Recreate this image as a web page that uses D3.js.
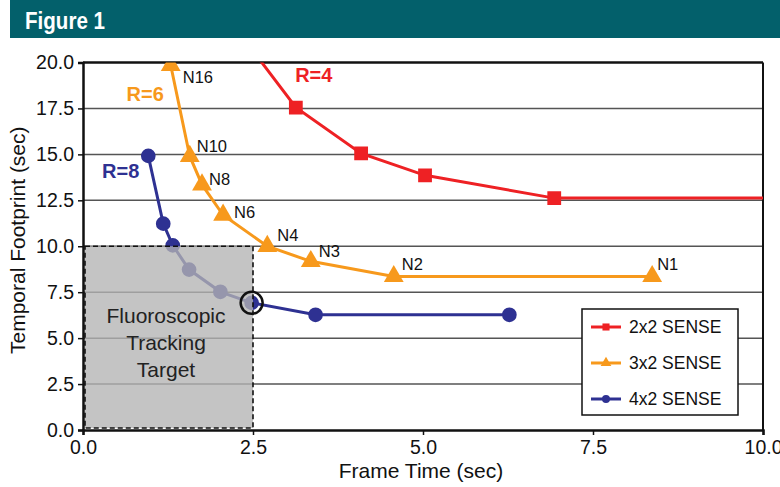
<!DOCTYPE html>
<html>
<head>
<meta charset="utf-8">
<script src="https://cdn.jsdelivr.net/npm/d3@7"></script>
<style>
  body { margin: 0; background: #fff; }
  svg { font-family: "Liberation Sans", Arial, sans-serif; }
</style>
</head>
<body>
<div id="chart"></div>
<script>
// frame time (sec) / temporal footprint (sec) per acceleration
const r4Frame = [2.2, 3.13, 4.09, 5.03, 6.93, 12.5];
const r4Foot = [22.1, 17.55, 15.05, 13.86, 12.62, 12.62];

const r6Frame = [1.29, 1.57, 1.75, 2.06, 2.71, 3.35, 4.57, 8.37];
const r6Foot = [19.85, 14.9, 13.35, 11.7, 10.0, 9.18, 8.36, 8.36];
const r6Labels = ['N16', 'N10', 'N8', 'N6', 'N4', 'N3', 'N2', 'N1'];

const r8Frame = [0.96, 1.18, 1.32, 1.56, 2.02, 2.48, 3.42, 6.27];
const r8Foot = [14.92, 11.23, 10.05, 8.73, 7.52, 6.92, 6.27, 6.27];

const xTicks = [0, 2.5, 5, 7.5, 10];
const yTicks = [0, 2.5, 5, 7.5, 10, 12.5, 15, 17.5, 20];

const legendNames = ['2x2 SENSE', '3x2 SENSE', '4x2 SENSE'];
const target = { frame: 2.5, foot: 10 };

const width = 780, height = 487;
const mLeft = 83, mRight = 763, mTop = 62.5, mBottom = 430;

// pixel nudges for the N labels (layout only)
const nDx = [12, 7, 7, 11, 10, 8, 8, 5];
const nDy = [18, -4, 0, 3, -5, -4, -6, -6];

const svg = d3.select('#chart').append('svg')
  .attr('width', width)
  .attr('height', height);

// header bar
svg.append('rect')
  .attr('x', 10).attr('y', 0)
  .attr('width', width - 10).attr('height', 38)
  .attr('fill', '#03606b');
svg.append('text')
  .attr('x', 25).attr('y', 29)
  .attr('fill', '#fff')
  .attr('font-size', 24)
  .attr('font-weight', 'bold')
  .attr('textLength', 80)
  .attr('lengthAdjust', 'spacingAndGlyphs')
  .text('Figure 1');

const x = d3.scaleLinear().domain([0, 10]).range([mLeft, mRight]);
const y = d3.scaleLinear().domain([0, 20]).range([mBottom, mTop]);

// gridlines
svg.append('g')
  .selectAll('line')
  .data(yTicks.filter(d => d > 0))
  .enter()
  .append('line')
  .attr('x1', mLeft).attr('x2', mRight)
  .attr('y1', d => y(d)).attr('y2', d => y(d))
  .attr('stroke', d => d === 20 ? '#111' : '#555')
  .attr('stroke-width', d => d === 20 ? 2.5 : 1.5);

// right border
svg.append('line')
  .attr('x1', mRight).attr('x2', mRight)
  .attr('y1', mTop).attr('y2', mBottom)
  .attr('stroke', '#111').attr('stroke-width', 2);

svg.append('clipPath').attr('id', 'plot')
  .append('rect')
  .attr('x', mLeft).attr('y', mTop)
  .attr('width', mRight - mLeft).attr('height', mBottom - mTop);

const plot = svg.append('g').attr('clip-path', 'url(#plot)');

const line = d3.line().x(d => x(d[0])).y(d => y(d[1]));

const series = [
  { frame: r4Frame, foot: r4Foot, color: '#ee2124', shape: d3.symbolSquare, size: 190 },
  { frame: r6Frame, foot: r6Foot, color: '#f7991c', shape: d3.symbolTriangle, size: 170 },
  { frame: r8Frame, foot: r8Foot, color: '#2e3192', shape: d3.symbolCircle, size: 170 }
];

series.forEach(s => {
  const pts = s.frame.map((f, i) => [f, s.foot[i]]);
  plot.append('path')
    .datum(pts)
    .attr('d', line)
    .attr('fill', 'none')
    .attr('stroke', s.color)
    .attr('stroke-width', 3);
  const marks = s === series[0] ? pts.slice(1, -1) : pts;
  plot.selectAll(null)
    .data(marks)
    .enter()
    .append('path')
    .attr('d', d3.symbol().type(s.shape).size(s.size))
    .attr('transform', d => `translate(${x(d[0])},${y(d[1])})`)
    .attr('fill', s.color);
});

// fluoroscopic tracking target box (semi-transparent overlay)
svg.append('rect')
  .attr('x', x(0) + 2).attr('y', y(target.foot))
  .attr('width', x(target.frame) - x(0) - 2)
  .attr('height', y(0) - y(target.foot) - 2)
  .attr('fill', '#b4b4b4')
  .attr('fill-opacity', 0.78)
  .attr('stroke', '#111')
  .attr('stroke-width', 1.6)
  .attr('stroke-dasharray', '5,3');

const boxText = svg.append('text')
  .attr('text-anchor', 'middle')
  .attr('font-size', 21)
  .attr('fill', '#222');
['Fluoroscopic', 'Tracking', 'Target'].forEach((t, i) => {
  boxText.append('tspan')
    .attr('x', x(target.frame / 2) - 2)
    .attr('y', 323 + i * 27)
    .text(t);
});

// circled design point
svg.append('circle')
  .attr('cx', x(r8Frame[5])).attr('cy', y(r8Foot[5]))
  .attr('r', 11)
  .attr('fill', 'none')
  .attr('stroke', '#111')
  .attr('stroke-width', 2.5);

// N labels
svg.append('g')
  .selectAll('text')
  .data(r6Labels)
  .enter()
  .append('text')
  .attr('x', (d, i) => x(r6Frame[i]) + nDx[i])
  .attr('y', (d, i) => y(r6Foot[i]) + nDy[i])
  .attr('font-size', 16.5)
  .attr('fill', '#111')
  .text(d => d);

// R labels
const rLabels = [
  { t: 'R=4', frame: 3.12, foot: 18.95, color: '#ee2124' },
  { t: 'R=6', frame: 0.64, foot: 17.9, color: '#f7991c' },
  { t: 'R=8', frame: 0.28, foot: 13.7, color: '#2e3192' }
];
svg.append('g')
  .selectAll('text')
  .data(rLabels)
  .enter()
  .append('text')
  .attr('x', d => x(d.frame)).attr('y', d => y(d.foot))
  .attr('font-size', 20)
  .attr('font-weight', 'bold')
  .attr('fill', d => d.color)
  .text(d => d.t);

// axes
const xAxis = svg.append('g')
  .attr('transform', `translate(0,${mBottom})`)
  .call(d3.axisBottom(x).tickValues(xTicks).tickFormat(d3.format('.1f')).tickSize(5));
const yAxis = svg.append('g')
  .attr('transform', `translate(${mLeft},0)`)
  .call(d3.axisLeft(y).tickValues(yTicks).tickFormat(d3.format('.1f')).tickSize(5));

[xAxis, yAxis].forEach(a => {
  a.select('.domain').attr('stroke', '#111').attr('stroke-width', 2.5);
  a.selectAll('.tick line').attr('stroke', '#111').attr('stroke-width', 1.5);
  a.selectAll('text')
    .attr('font-family', '"Liberation Sans", Arial, sans-serif')
    .attr('font-size', 19.5)
    .attr('fill', '#111');
});
xAxis.selectAll('text').attr('dy', '0.8em');
yAxis.selectAll('text').attr('dx', '-0.05em');

svg.append('text')
  .attr('x', x(5) - 2).attr('y', 478)
  .attr('text-anchor', 'middle')
  .attr('font-size', 21)
  .attr('fill', '#111')
  .text('Frame Time (sec)');

svg.append('text')
  .attr('transform', `translate(25,${(mTop + mBottom) / 2 - 6}) rotate(-90)`)
  .attr('text-anchor', 'middle')
  .attr('font-size', 21)
  .attr('fill', '#111')
  .text('Temporal Footprint (sec)');

// legend
const legend = svg.append('g').attr('transform', 'translate(582,309)');
legend.append('rect')
  .attr('width', 156).attr('height', 106)
  .attr('fill', '#fff')
  .attr('stroke', '#111')
  .attr('stroke-width', 1.5);
legend.selectAll('g')
  .data(series)
  .enter()
  .append('g')
  .attr('transform', (d, i) => `translate(0,${18 + i * 36})`)
  .each(function (d, i) {
    const g = d3.select(this);
    g.append('line')
      .attr('x1', 9).attr('x2', 39)
      .attr('stroke', d.color).attr('stroke-width', 3);
    g.append('path')
      .attr('d', d3.symbol().type(d.shape).size(50))
      .attr('transform', 'translate(24,0)')
      .attr('fill', d.color);
    g.append('text')
      .attr('x', 47).attr('y', 6)
      .attr('font-size', 17.5)
      .attr('fill', '#111')
      .text(legendNames[i]);
  });
</script>
</body>
</html>
